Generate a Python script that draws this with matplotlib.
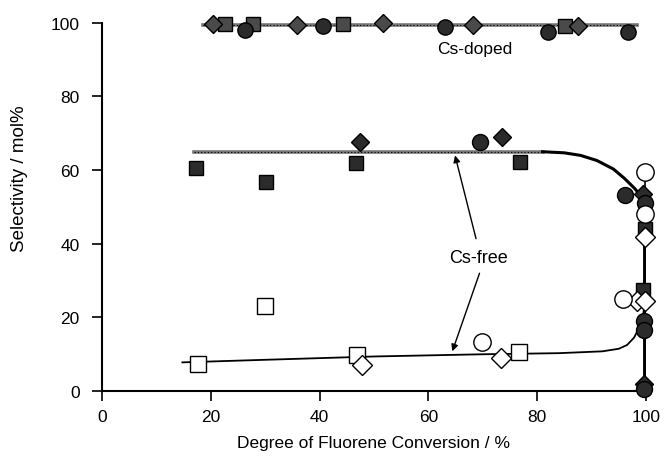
import matplotlib.pyplot as plt

plt.rcParams['font.family'] = ['Liberation Sans', 'DejaVu Sans']

# Cs-doped catalysts (all close to 100 % selectivity)
doped_sq_x = [22.6, 27.8, 44.3, 85.1]
doped_sq_y = [99.6, 99.8, 99.6, 99.2]
doped_di_x = [20.4, 35.8, 51.7, 68.2, 87.5]
doped_di_y = [99.8, 99.4, 100.0, 99.4, 99.2]
doped_ci_x = [26.3, 40.6, 63.1, 82.0, 96.7]
doped_ci_y = [98.0, 99.2, 98.9, 97.6, 97.6]
doped_fit_x = [18.6, 98.3]
doped_fit_y = [99.3, 99.3]

# Cs-free catalysts, filled symbols
free_sq_x = [17.3, 30.1, 46.7, 76.8, 99.8, 99.5]
free_sq_y = [60.5, 56.9, 62.0, 62.3, 44.0, 27.5]
free_di_x = [47.4, 73.6, 99.5, 99.6]
free_di_y = [67.7, 68.9, 53.5, 2.0]
free_ci_x = [69.5, 96.1, 99.8, 99.6, 99.6, 99.6]
free_ci_y = [67.6, 53.3, 51.0, 19.0, 16.5, 0.5]

# Cs-free catalysts, open symbols
open_sq_x = [17.6, 30.0, 46.9, 76.7]
open_sq_y = [7.3, 23.2, 9.8, 10.5]
open_di_x = [47.8, 73.3, 98.4, 99.9, 99.8]
open_di_y = [7.1, 8.9, 24.5, 24.5, 41.8]
open_ci_x = [69.8, 95.8, 99.8, 99.8]
open_ci_y = [13.2, 25.0, 48.1, 59.6]

# hand-drawn trend lines
upper_x = [16.9, 40, 60, 81, 85, 88, 91, 94, 96, 97.8, 99, 99.8]
upper_y = [65, 65, 65, 65, 64.7, 64.0, 62.6, 60.3, 57.8, 55.2, 53.2, 52]
lower_x = [14.8, 30, 50, 70, 84, 92, 95, 96.5, 97.8, 98.9, 99.5, 99.8]
lower_y = [7.8, 8.5, 9.4, 10.0, 10.3, 10.8, 11.5, 12.5, 14.5, 17.7, 21, 24]
full_conv_x = [99.8, 99.8]
full_conv_y = [52, 0]
open_top_y = [59.6, 52]

fig = plt.figure(figsize=[6.66, 4.77], dpi=100)
ax = fig.add_axes([0.153, 0.178, 0.817, 0.772])

# trend lines
ax.plot(doped_fit_x, doped_fit_y, color='#777777', lw=2.6, zorder=1)
ax.plot(doped_fit_x, doped_fit_y, color='black', lw=0.8, ls=(0, (1, 2)), zorder=1)
ax.plot(upper_x[:4], upper_y[:4], color='#777777', lw=2.6, zorder=1)
ax.plot(upper_x[:4], upper_y[:4], color='black', lw=0.8, ls=(0, (1, 2)), zorder=1)
ax.plot(upper_x[3:], upper_y[3:], color='black', lw=2.2, zorder=1)
ax.plot(lower_x, lower_y, color='black', lw=1.3, zorder=1)
ax.plot(full_conv_x, full_conv_y, color='black', lw=2.8, zorder=1)
ax.plot(full_conv_x, open_top_y, color='black', lw=1.2, zorder=1)

dark = '#2b2b2b'
hatched = '#4a4a4a'
kw = dict(ls='none', mec='black', mew=1.0, clip_on=False, zorder=3)

ax.plot(doped_sq_x, doped_sq_y, marker='s', ms=10, mfc=hatched, **kw)
ax.plot(doped_di_x, doped_di_y, marker='D', ms=9, mfc=hatched, **kw)
ax.plot(doped_ci_x, doped_ci_y, marker='o', ms=11, mfc=dark, **kw)

ax.plot(free_sq_x, free_sq_y, marker='s', ms=10.5, mfc=dark, **kw)
ax.plot(free_di_x, free_di_y, marker='D', ms=9.5, mfc=dark, **kw)
ax.plot(free_ci_x, free_ci_y, marker='o', ms=11.5, mfc=dark, **kw)

ax.plot(open_sq_x, open_sq_y, marker='s', ms=11.5, mfc='white', **kw)
ax.plot(open_di_x, open_di_y, marker='D', ms=10, mfc='white', **kw)
ax.plot(open_ci_x, open_ci_y, marker='o', ms=12.5, mfc='white', **kw)

# labels on the plot
ax.text(68.5, 93, 'Cs-doped', fontsize=12.5, ha='center', va='center')
arrow = dict(arrowstyle='-|>', color='black', lw=1.0, mutation_scale=10, shrinkA=0, shrinkB=0)
ax.annotate('Cs-free', xy=(64.9, 64.0), xytext=(69.3, 36.3), fontsize=13,
            ha='center', va='center', arrowprops=dict(arrow, relpos=(0.45, 1.6)))
ax.annotate('', xy=(64.4, 10.8), xytext=(69.4, 32.0), arrowprops=arrow)

ax.set_xlim(0, 100)
ax.set_ylim(0, 100)
ax.set_xticks([0, 20, 40, 60, 80, 100])
ax.set_yticks([0, 20, 40, 60, 80, 100])
ax.tick_params(direction='out', length=7, width=1.2, labelsize=12.5)
ax.tick_params(axis='y', pad=9)
ax.tick_params(axis='x', pad=6)
for side in ['top', 'right']:
    ax.spines[side].set_visible(False)
for side in ['left', 'bottom']:
    ax.spines[side].set_linewidth(1.5)

ax.set_xlabel('Degree of Fluorene Conversion / %', fontsize=12.5, labelpad=8)
ax.set_ylabel('Selectivity / mol%', fontsize=13.5)
ax.yaxis.set_label_coords(-0.135, 0.58)

plt.savefig('out.png', dpi=100)
